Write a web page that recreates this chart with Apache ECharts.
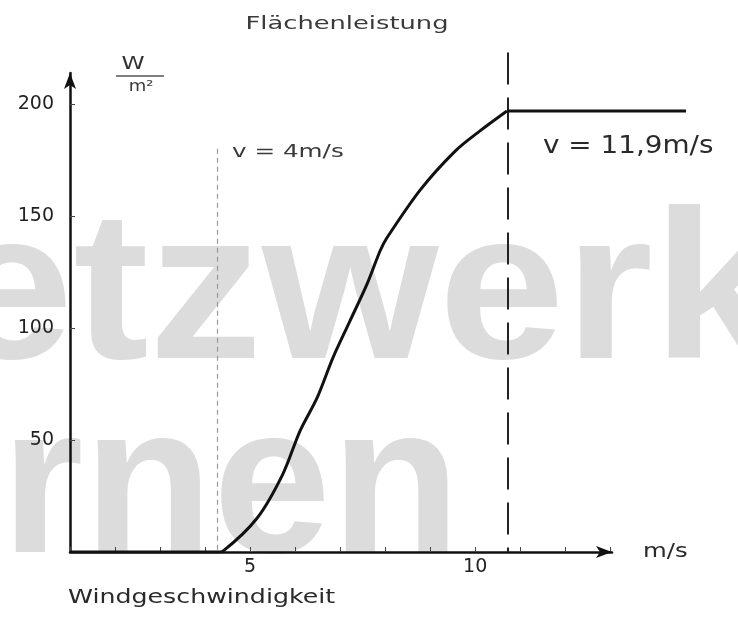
<!DOCTYPE html>
<html>
<head>
<meta charset="utf-8">
<title>Flächenleistung</title>
<script src="https://cdn.jsdelivr.net/npm/echarts@6/dist/echarts.min.js"></script>
<style>
html, body { margin: 0; padding: 0; background: #fff; }
#chart { width: 738px; height: 618px; }
</style>
</head>
<body>
<div id="chart"></div>
<script>
// Windgeschwindigkeit (m/s) und Flächenleistung (W/m²)
var speeds = [1.0, 4.29, 4.40, 5.16, 5.73, 6.11, 6.49, 6.84, 7.22, 7.60, 7.89, 8.04, 8.78, 9.56, 10.11, 10.71, 14.69];
var power  = [0,   0,    0.4,  15.2, 34.8, 54.0, 68.8, 86.6, 103.1, 119.6, 134.4, 140.2, 161.6, 179.0, 188.0, 196.9, 196.9];

var cutIn = 4.27;     // Linie "v = 4m/s"
var rated = 10.73;    // Linie "v = 11,9m/s"
var cutInTop = 180;
var ratedTop = 223;

var xLabels = [5, 10];
var yLabels = [50, 100, 150, 200];

var myChart = echarts.init(document.getElementById('chart'));

var pts = [];
for (var i = 0; i < speeds.length; i++) {
    pts.push([speeds[i], power[i]]);
}
var last = pts.length - 1;
// Anstieg geglättet, die beiden waagrechten Stücke gerade
var risePts = pts.slice(1, last);
var flatPts = [pts[0], pts[1], null, pts[last - 1], pts[last]];

var font = 'DejaVu Sans, Verdana, sans-serif';

option = {
    backgroundColor: '#fff',
    animation: false,
    grid: [
        { left: 70, right: 126, top: 73, bottom: 66 },   // Achsen
        { left: 70, right: 47, top: 40, bottom: 66 }     // Kurve
    ],
    xAxis: [
        {
            type: 'value',
            gridIndex: 0,
            min: 1,
            max: 13.04,
            interval: 1,
            splitLine: { show: false },
            axisLine: {
                show: true,
                symbol: ['none', 'arrow'],
                symbolSize: [9, 16],
                lineStyle: { color: '#111', width: 2.5 }
            },
            axisTick: { show: true, inside: true, length: 5, lineStyle: { color: '#444' } },
            axisLabel: {
                margin: 6,
                color: '#222',
                fontSize: 19,
                fontFamily: font,
                showMaxLabel: false,
                formatter: function (v) { return xLabels.indexOf(v) >= 0 ? String(v) : ''; }
            }
        },
        { type: 'value', gridIndex: 1, min: 1, max: 14.8, show: false }
    ],
    yAxis: [
        {
            type: 'value',
            gridIndex: 0,
            min: 0,
            max: 213.8,
            interval: 50,
            splitLine: { show: false },
            axisLine: {
                show: true,
                symbol: ['none', 'arrow'],
                symbolSize: [9, 16],
                lineStyle: { color: '#111', width: 2.5 }
            },
            axisTick: { show: true, inside: true, length: 5, lineStyle: { color: '#444' } },
            axisLabel: {
                margin: 16,
                color: '#222',
                fontSize: 19,
                fontFamily: font,
                showMaxLabel: false,
                formatter: function (v) { return yLabels.indexOf(v) >= 0 ? String(v) : ''; }
            }
        },
        { type: 'value', gridIndex: 1, min: 0, max: 228.6, show: false }
    ],
    graphic: [
        // Wasserzeichen
        { type: 'text', z: -10, x: -53, y: 194, scaleX: 1.07,
          style: { text: 'etzwerk', font: 'bold 212px Liberation Sans, Arial, sans-serif', fill: '#dcdcdc', verticalAlign: 'top' } },
        { type: 'text', z: -10, x: 1, y: 388,
          style: { text: 'rnen', font: 'bold 212px Liberation Sans, Arial, sans-serif', fill: '#dcdcdc', verticalAlign: 'top' } },
        // Titel
        { type: 'text', x: 347, y: 24, scaleX: 1.43,
          style: { text: 'Flächenleistung', font: '18px ' + font, fill: '#3a3a3a', align: 'center', verticalAlign: 'middle' } },
        // Einheit W/m²
        { type: 'text', x: 133, y: 64, scaleX: 1.3,
          style: { text: 'W', font: '18px ' + font, fill: '#333', align: 'center', verticalAlign: 'middle' } },
        { type: 'line', shape: { x1: 116, y1: 76, x2: 164, y2: 76 }, style: { stroke: '#555', lineWidth: 1.5 } },
        { type: 'text', x: 141, y: 87, scaleX: 1.2,
          style: { text: 'm²', font: '15px ' + font, fill: '#3a3a3a', align: 'center', verticalAlign: 'middle' } },
        // Beschriftungen der Linien
        { type: 'text', x: 232, y: 153, scaleX: 1.45,
          style: { text: 'v = 4m/s', font: '17px ' + font, fill: '#3a3a3a', verticalAlign: 'middle' } },
        { type: 'text', x: 543, y: 147, scaleX: 1.16,
          style: { text: 'v = 11,9m/s', font: '24px ' + font, fill: '#2a2a2a', verticalAlign: 'middle' } },
        // Achsenbeschriftung
        { type: 'text', x: 643, y: 552, scaleX: 1.22,
          style: { text: 'm/s', font: '20px ' + font, fill: '#2a2a2a', verticalAlign: 'middle' } },
        { type: 'text', x: 68, y: 598, scaleX: 1.33,
          style: { text: 'Windgeschwindigkeit', font: '19px ' + font, fill: '#2a2a2a', verticalAlign: 'middle' } }
    ],
    series: [
        {
            type: 'line',
            xAxisIndex: 1,
            yAxisIndex: 1,
            data: flatPts,
            symbol: 'none',
            connectNulls: false,
            lineStyle: { color: '#111', width: 3 },
            z: 5,
            markLine: {
                silent: true,
                symbol: ['none', 'none'],
                label: { show: false },
                data: [
                    [
                        { coord: [cutIn, cutInTop], lineStyle: { color: '#999', width: 1.2, type: [5, 4] } },
                        { coord: [cutIn, 0] }
                    ],
                    [
                        { coord: [rated, ratedTop], lineStyle: { color: '#222', width: 2, type: [32, 13] } },
                        { coord: [rated, 0] }
                    ]
                ]
            }
        },
        {
            type: 'line',
            xAxisIndex: 1,
            yAxisIndex: 1,
            data: risePts,
            symbol: 'none',
            smooth: 0.3,
            lineStyle: { color: '#111', width: 3 },
            z: 5
        }
    ]
};

myChart.setOption(option);
</script>
</body>
</html>
